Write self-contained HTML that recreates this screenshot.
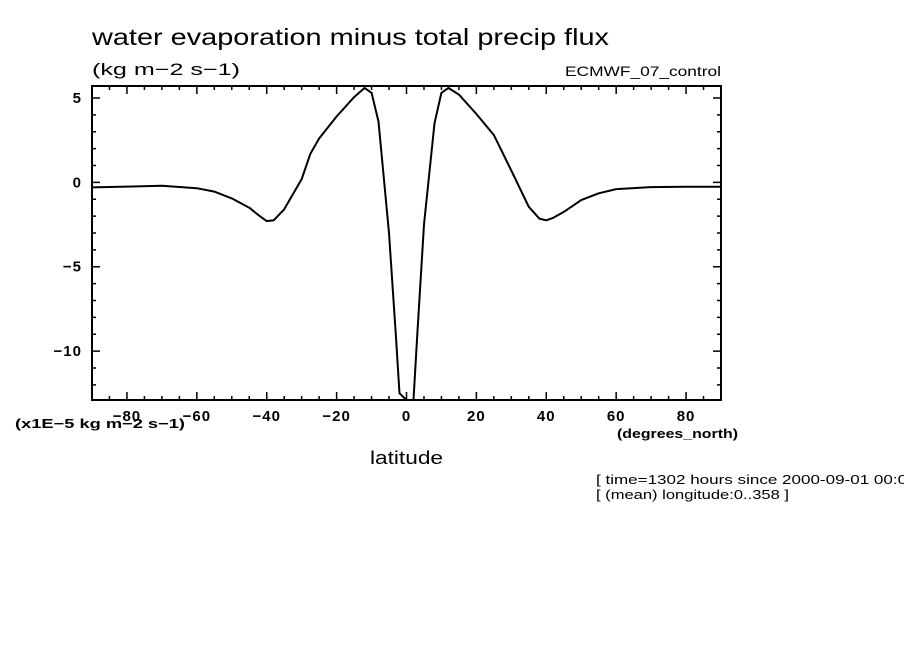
<!DOCTYPE html>
<html><head><meta charset="utf-8"><style>
body{margin:0;background:#fff;width:904px;height:654px;overflow:hidden}
svg{display:block;font-family:"Liberation Sans",sans-serif}
</style></head><body>
<svg id="chart" width="904" height="654">
<text x="92" y="45" font-size="23" textLength="517" lengthAdjust="spacingAndGlyphs">water evaporation minus total precip flux</text>
<text x="92" y="75" font-size="17" textLength="148" lengthAdjust="spacingAndGlyphs">(kg m−2 s−1)</text>
<text x="565" y="76" font-size="14" textLength="156" lengthAdjust="spacingAndGlyphs">ECMWF_07_control</text>
<text x="15" y="428" font-size="13" font-weight="bold" textLength="170" lengthAdjust="spacingAndGlyphs">(x1E−5 kg m−2 s−1)</text>
<text x="617" y="438" font-size="13" font-weight="bold" textLength="121" lengthAdjust="spacingAndGlyphs">(degrees_north)</text>
<text x="370" y="464" font-size="18" textLength="73" lengthAdjust="spacingAndGlyphs">latitude</text>
<text x="596" y="484" font-size="13" textLength="330" lengthAdjust="spacingAndGlyphs">[ time=1302 hours since 2000-09-01 00:00 ]</text>
<text x="596" y="499" font-size="13" textLength="193" lengthAdjust="spacingAndGlyphs">[ (mean) longitude:0..358 ]</text>
<g id="plot"></g>
</svg>
<script>
const lats=[-90,-80,-70,-60,-55,-50,-45,-42,-40,-38,-35,-30,-27.5,-25,-20,-15,-12,-10,-8,-5,-3,-2,0,2,3,5,8,10,12,15,20,25,30,35,38,40,42,45,50,55,60,70,80,90];
const vals=[-0.3,-0.25,-0.2,-0.35,-0.55,-0.95,-1.5,-2.0,-2.3,-2.25,-1.6,0.2,1.7,2.6,3.9,5.05,5.6,5.3,3.6,-3.0,-9.2,-12.5,-12.9,-12.9,-9.3,-2.5,3.5,5.3,5.6,5.2,4.05,2.8,0.7,-1.45,-2.15,-2.25,-2.1,-1.75,-1.05,-0.65,-0.4,-0.28,-0.26,-0.26];
const xTicks=[-80,-60,-40,-20,0,20,40,60,80];
const yTicks=[5,0,-5,-10];
const X0=92,X1=721,Y0=86,Y1=400,xmin=-90,xmax=90,ymin=-12.9,ymax=5.71;
const sx=v=>X0+(v-xmin)/(xmax-xmin)*(X1-X0);
const sy=v=>Y1-(v-ymin)/(ymax-ymin)*(Y1-Y0);
const g=document.getElementById('plot');const NS='http://www.w3.org/2000/svg';
function mk(t,a){const e=document.createElementNS(NS,t);for(const k in a)e.setAttribute(k,a[k]);g.appendChild(e);return e;}
let d='';
for(let v=-90;v<=90;v+=5){const x=sx(v),L=(v%20===0&&v!==90&&v!==-90)?8:4;d+=`M${x},${Y1}v${-L}M${x},${Y0}v${L}`;}
for(let v=-12;v<=5;v++){const y=sy(v),L=(v%5===0)?8:4;d+=`M${X0},${y}h${L}M${X1},${y}h${-L}`;}
const t=mk('path',{d:d,stroke:'#000','stroke-width':1.5,fill:'none'});


const f=mk('rect',{x:X0,y:Y0,width:X1-X0,height:Y1-Y0,fill:'none',stroke:'#000','stroke-width':2});


xTicks.forEach(v=>{const e=mk('text',{x:sx(v),y:Y1+21,'font-size':15,'font-weight':'bold','text-anchor':'middle','letter-spacing':1});e.textContent=v<0?'−'+(-v):v;

});
yTicks.forEach(v=>{const e=mk('text',{x:X0-10,y:sy(v)+5,'font-size':15,'font-weight':'bold','text-anchor':'end','letter-spacing':1});e.textContent=v<0?'−'+(-v):v;

});
const cp=mk('clipPath',{id:'cp'});const r=document.createElementNS(NS,'rect');r.setAttribute('x',X0);r.setAttribute('y',Y0);r.setAttribute('width',X1-X0);r.setAttribute('height',Y1-Y0);cp.appendChild(r);
const line=mk('path',{d:lats.map((v,i)=>(i?'L':'M')+sx(v).toFixed(1)+','+sy(vals[i]).toFixed(1)).join(''),stroke:'#000','stroke-width':2,fill:'none','stroke-linejoin':'round','clip-path':'url(#cp)'});


</script>
</body></html>
